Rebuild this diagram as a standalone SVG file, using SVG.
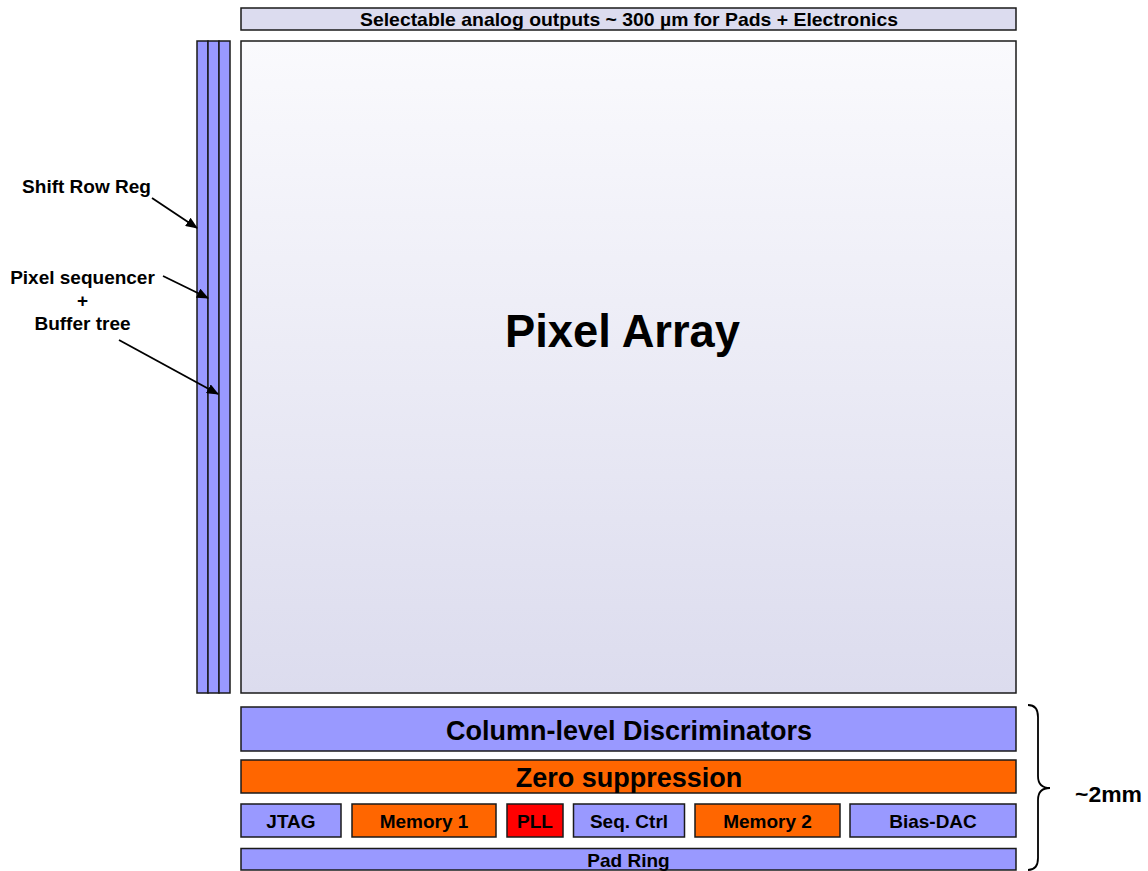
<svg xmlns="http://www.w3.org/2000/svg" width="1148" height="871" viewBox="0 0 1148 871">
  <defs>
    <linearGradient id="pixGrad" x1="0" y1="0" x2="0" y2="1">
      <stop offset="0" stop-color="#FAFAFD"/>
      <stop offset="1" stop-color="#DCDCEE"/>
    </linearGradient>
    <marker id="arrow" viewBox="0 0 12 10" refX="11" refY="5" markerWidth="12" markerHeight="10" markerUnits="userSpaceOnUse" orient="auto">
      <path d="M0,0 L12,5 L0,10 Z" fill="#000"/>
    </marker>
    <style>
      .box { stroke: #1a1a1a; stroke-width: 1.5; }
      .blue { fill: #9999FF; }
      .orange { fill: #FF6600; }
      .red { fill: #FF0000; }
      .lav { fill: #DCDCEF; }
      text { font-family: "Liberation Sans", Arial, sans-serif; font-weight: bold; fill: #000; text-anchor: middle; }
      .lbl { font-size: 19px; }
      .blk { font-size: 19px; }
      .big { font-size: 27px; }
      .conn { stroke: #000; stroke-width: 1.8; fill: none; }
    </style>
  </defs>
  <rect width="1148" height="871" fill="#FFFFFF"/>

  <g id="top-bar">
    <rect class="box lav" x="241" y="8" width="775" height="22"/>
    <text x="629" y="26" font-size="18.5" textLength="538" lengthAdjust="spacingAndGlyphs">Selectable analog outputs ~ 300 µm for Pads + Electronics</text>
  </g>

  <g id="pixel-array">
    <rect class="box" x="241" y="41" width="775" height="652" fill="url(#pixGrad)"/>
    <text x="622.5" y="347" font-size="46" textLength="235" lengthAdjust="spacingAndGlyphs">Pixel Array</text>
  </g>

  <g id="shift-row-reg">
    <rect class="box blue" x="197" y="41" width="11" height="652"/>
  </g>
  <g id="pixel-sequencer">
    <rect class="box blue" x="208" y="41" width="11" height="652"/>
  </g>
  <g id="buffer-tree">
    <rect class="box blue" x="219" y="41" width="11" height="652"/>
  </g>

  <g id="labels">
    <text class="lbl" x="86.5" y="193">Shift Row Reg</text>
    <text class="lbl" x="82.5" y="284">Pixel sequencer</text>
    <text class="lbl" x="82.5" y="307">+</text>
    <text class="lbl" x="82.5" y="330">Buffer tree</text>
  </g>

  <g id="column-discriminators">
    <rect class="box blue" x="241" y="707" width="775" height="44"/>
    <text class="big" x="629" y="739.5">Column-level Discriminators</text>
  </g>

  <g id="zero-suppression">
    <rect class="box orange" x="241" y="760" width="775" height="33"/>
    <text class="big" x="629" y="786.5">Zero suppression</text>
  </g>

  <g id="jtag">
    <rect class="box blue" x="241" y="804" width="100" height="33"/>
    <text class="blk" x="291" y="828">JTAG</text>
  </g>
  <g id="memory1">
    <rect class="box orange" x="352" y="804" width="144" height="33"/>
    <text class="blk" x="424" y="828">Memory 1</text>
  </g>
  <g id="pll">
    <rect class="box red" x="507" y="804" width="56" height="33"/>
    <text class="blk" x="535" y="828">PLL</text>
  </g>
  <g id="seq-ctrl">
    <rect class="box blue" x="573.5" y="804" width="111" height="33"/>
    <text class="blk" x="629" y="828">Seq. Ctrl</text>
  </g>
  <g id="memory2">
    <rect class="box orange" x="695" y="804" width="145" height="33"/>
    <text class="blk" x="767.5" y="828">Memory 2</text>
  </g>
  <g id="bias-dac">
    <rect class="box blue" x="850" y="804" width="166" height="33"/>
    <text class="blk" x="933" y="828">Bias-DAC</text>
  </g>

  <g id="pad-ring">
    <rect class="box blue" x="241" y="848.5" width="775" height="21.5"/>
    <text class="blk" x="628.5" y="866.5">Pad Ring</text>
  </g>

  <g id="size-brace">
    <path class="conn" stroke-width="1.5" d="M1028,705 Q1038,705 1038,717 L1038,776 Q1038,788 1050,788 Q1038,788 1038,800 L1038,858 Q1038,870 1028,870"/>
    <text x="1108.5" y="802" font-size="22" textLength="67" lengthAdjust="spacingAndGlyphs">~2mm</text>
  </g>

  <g id="connectors">
    <line class="conn" x1="152" y1="198" x2="197" y2="228" marker-end="url(#arrow)"/>
    <line class="conn" x1="163" y1="276" x2="208" y2="298" marker-end="url(#arrow)"/>
    <line class="conn" x1="119" y1="340" x2="218" y2="394" marker-end="url(#arrow)"/>
  </g>
</svg>
